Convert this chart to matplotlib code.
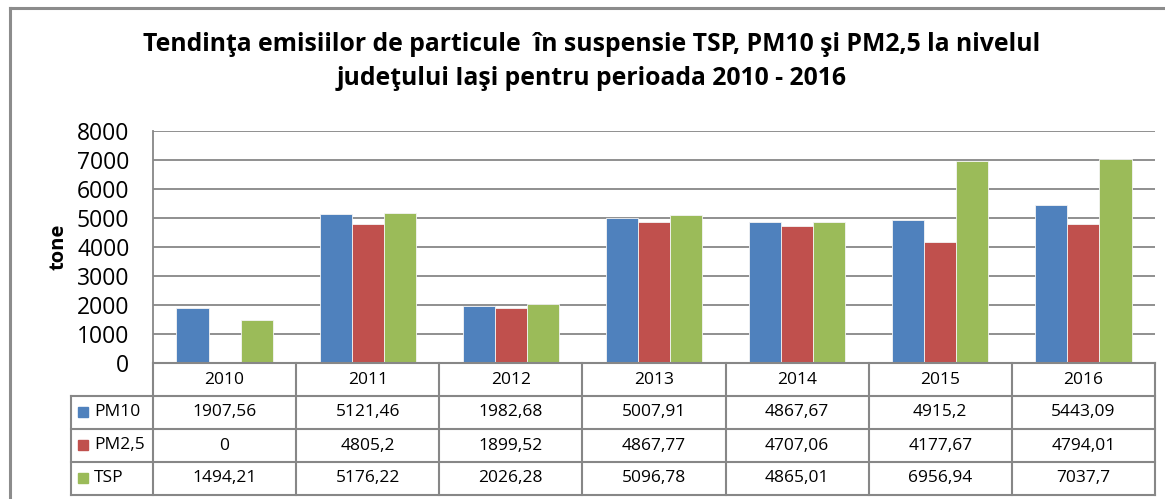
import matplotlib.pyplot as plt
import numpy as np

years = ["2010", "2011", "2012", "2013", "2014", "2015", "2016"]
series = ["PM10", "PM2,5", "TSP"]
pm10 = [1907.56, 5121.46, 1982.68, 5007.91, 4867.67, 4915.2, 5443.09]
pm25 = [0, 4805.2, 1899.52, 4867.77, 4707.06, 4177.67, 4794.01]
tsp = [1494.21, 5176.22, 2026.28, 5096.78, 4865.01, 6956.94, 7037.7]
colors = ["#4F81BD", "#C0504D", "#9BBB59"]

title1 = "Tendinţa emisiilor de particule  în suspensie TSP, PM10 şi PM2,5 la nivelul"
title2 = "judeţului Iaşi pentru perioada 2010 - 2016"

plt.rcParams['font.family'] = ['Open Sans', 'DejaVu Sans']
grid_c = "#878787"

W, H = 1165, 499
fig = plt.figure(figsize=(W / 100, H / 100), dpi=100)

# outer frame
fig.add_artist(plt.Line2D([9.5 / W, 9.5 / W], [0, 1 - 7.5 / H], color="#8c8c8c", lw=2.2))
fig.add_artist(plt.Line2D([9.5 / W, 1], [1 - 7.5 / H, 1 - 7.5 / H], color="#8c8c8c", lw=2.2))

x0, x1 = 153, 1155
ytop, yzero, ybot = 131, 363, 495
ax = fig.add_axes([x0 / W, (H - yzero) / H, (x1 - x0) / W, (yzero - ytop) / H])
tax = fig.add_axes([x0 / W, (H - ybot) / H, (x1 - x0) / W, (ybot - yzero) / H])

x = np.arange(len(years))
bw = 0.224
data = [pm10, pm25, tsp]
for i, (vals, c) in enumerate(zip(data, colors)):
    ax.bar(x + (i - 1) * bw, vals, bw, color=c, edgecolor="#f4f4f4", linewidth=0.6, zorder=3)

ax.set_xlim(-0.5, len(years) - 0.5)
ax.set_ylim(0, 8000)
ax.set_yticks(np.arange(0, 8001, 1000))
ax.tick_params(axis="y", length=0, labelsize=16.5, pad=17)
ax.set_xticks([])
ax.grid(axis="y", color=grid_c, lw=1.3, zorder=0)
for s in ["top", "right", "bottom"]:
    ax.spines[s].set_visible(False)
ax.spines["left"].set_color(grid_c)
ax.spines["left"].set_linewidth(1.3)
ax.set_ylabel("tone", fontsize=14.5, fontweight="bold")
ax.yaxis.set_label_coords(-0.084, 0.5)

# data table
tax.set_xlim(-0.5, len(years) - 0.5)
tax.set_ylim(4, 0)
tax.axis("off")
xl = -0.5 - (x0 - 71) / ((x1 - x0) / len(years))
lk = dict(color=grid_c, lw=1.5, clip_on=False)
tax.plot([-0.5, len(years) - 0.5], [0, 0], **lk)
for r in range(1, 5):
    tax.plot([xl, len(years) - 0.5], [r, r], **lk)
for k in range(len(years) + 1):
    tax.plot([k - 0.5, k - 0.5], [0, 4], **lk)
tax.plot([xl, xl], [1, 4], **lk)

for j, yr in enumerate(years):
    tax.text(j, 0.5, yr, ha="center", va="center", fontsize=12.5)
for i, (name, vals, c) in enumerate(zip(series, data, colors)):
    row = i + 1.5
    for j, v in enumerate(vals):
        txt = f"{v:g}".replace(".", ",")
        tax.text(j, row, txt, ha="center", va="center", fontsize=12.5)
    yc = yzero + 32 + 33.3 * i + 16.5
    fig.add_artist(plt.Rectangle((78 / W, (H - yc - 5) / H), 10 / W, 10 / H, color=c))
    fig.text(94 / W, (H - yc) / H, name, ha="left", va="center", fontsize=12.5)

fig.text(592 / W, 1 - 51 / H, title1, ha="center", va="baseline", fontsize=17.8,
         fontweight="bold")
fig.text(592 / W, 1 - 85 / H, title2, ha="center", va="baseline", fontsize=17.8,
         fontweight="bold")

fig.savefig("out.png", dpi=100)
